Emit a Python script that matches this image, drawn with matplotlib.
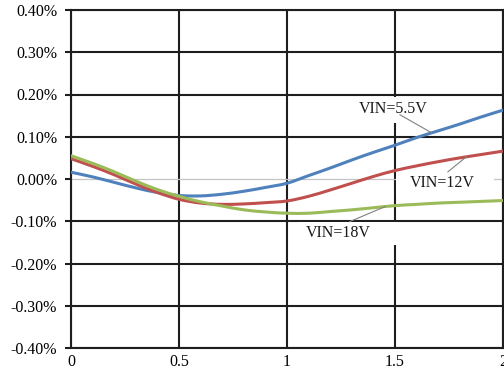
import numpy as np
import matplotlib
matplotlib.use("Agg")
import matplotlib.pyplot as plt
from matplotlib.patches import Rectangle, PathPatch
from matplotlib.path import Path

plt.rcParams["font.family"] = ["Liberation Serif", "DejaVu Serif"]

# load current (A) vs. output voltage error (%) for three input voltages
x = [0.0, 0.1, 0.2, 0.3, 0.4, 0.5, 0.6, 0.7, 0.8, 0.9, 1.0,
     1.1, 1.2, 1.3, 1.4, 1.5, 1.6, 1.7, 1.8, 1.9, 2.0]
vin_5v5 = [0.016, 0.005, -0.008, -0.021, -0.032, -0.039, -0.040, -0.036, -0.029, -0.020, -0.010,
           0.008, 0.026, 0.045, 0.063, 0.080, 0.098, 0.114, 0.130, 0.147, 0.163]
vin_12v = [0.048, 0.030, 0.010, -0.012, -0.032, -0.048, -0.057, -0.060, -0.059, -0.056, -0.052,
           -0.041, -0.026, -0.010, 0.006, 0.020, 0.031, 0.041, 0.050, 0.058, 0.066]
vin_18v = [0.055, 0.037, 0.017, -0.005, -0.025, -0.041, -0.054, -0.064, -0.073, -0.078, -0.081,
           -0.081, -0.077, -0.073, -0.068, -0.063, -0.060, -0.057, -0.055, -0.053, -0.051]

xticks = [0, 0.5, 1, 1.5, 2]
xticklabels = ["0", "0.5", "1", "1.5", "2"]
yticks = [0.4, 0.3, 0.2, 0.1, 0.0, -0.1, -0.2, -0.3, -0.4]
yticklabels = ["%.2f%%" % v for v in yticks]


def smooth_path(xs, ys):
    """Smoothed line through the points (Catmull-Rom as cubic Bezier segments)."""
    p = np.column_stack([xs, ys])
    verts = [p[0]]
    codes = [Path.MOVETO]
    n = len(p)
    for i in range(n - 1):
        p0 = p[max(i - 1, 0)]
        p1, p2 = p[i], p[i + 1]
        p3 = p[min(i + 2, n - 1)]
        verts += [p1 + (p2 - p0) / 6, p2 - (p3 - p1) / 6, p2]
        codes += [Path.CURVE4] * 3
    return Path(verts, codes)


fig = plt.figure(figsize=(5.04, 3.71), dpi=100)
ax = fig.add_axes([71 / 504, 1 - 348 / 371, (503 - 71) / 504, (348 - 10) / 371])

GRID = "#1e1e1e"
ax.set_xlim(0, 2)
ax.set_ylim(-0.4, 0.4)
ax.set_xticks(xticks)
ax.set_xticklabels(xticklabels)
ax.set_yticks(yticks)
ax.set_yticklabels(yticklabels)
ax.tick_params(axis="y", length=4, width=1.5, color=GRID, pad=6, labelsize=11.5)
ax.tick_params(axis="x", length=0, pad=4, labelsize=11.5)
ax.set_axisbelow(True)
ax.grid(True, color=GRID, linewidth=1.5)
for gl, v in zip(ax.get_ygridlines(), yticks):
    if v == 0.0:
        gl.set_color("#c4c4c4")
        gl.set_linewidth(0.9)
for s in ax.spines.values():
    s.set_color(GRID)
    s.set_linewidth(1.5)

for ser, col in [(vin_5v5, "#4f81bd"), (vin_12v, "#c0504d"), (vin_18v, "#9bbb59")]:
    ax.add_patch(PathPatch(smooth_path(x, ser), facecolor="none", edgecolor=col,
                           lw=2.2, capstyle="round", zorder=3))

# white label boxes sitting over the grid
for (bx, by, bw, bh) in [(1.33, 0.133, 0.36, 0.062),
                         (1.505, -0.037, 0.455, 0.054),
                         (1.05, -0.156, 0.46, 0.055)]:
    ax.add_patch(Rectangle((bx, by), bw, bh, facecolor="white", edgecolor="none", zorder=2))

labels = [("VIN=5.5V", 1.493, 0.166, (1.523, 0.152), 1.67, vin_5v5),
          ("VIN=12V", 1.718, -0.009, (1.745, 0.017), 1.83, vin_12v),
          ("VIN=18V", 1.236, -0.127, (1.29, -0.101), 1.454, vin_18v)]
for txt, tx, ty, (lx, ly), cx, ser in labels:
    ax.text(tx, ty, txt, ha="center", va="center", fontsize=11.5, color="#1a1a1a", zorder=4)
    ax.plot([lx, cx], [ly, np.interp(cx, x, ser)], color="#808080", lw=0.8, zorder=4)

fig.savefig("out.png", dpi=100)
